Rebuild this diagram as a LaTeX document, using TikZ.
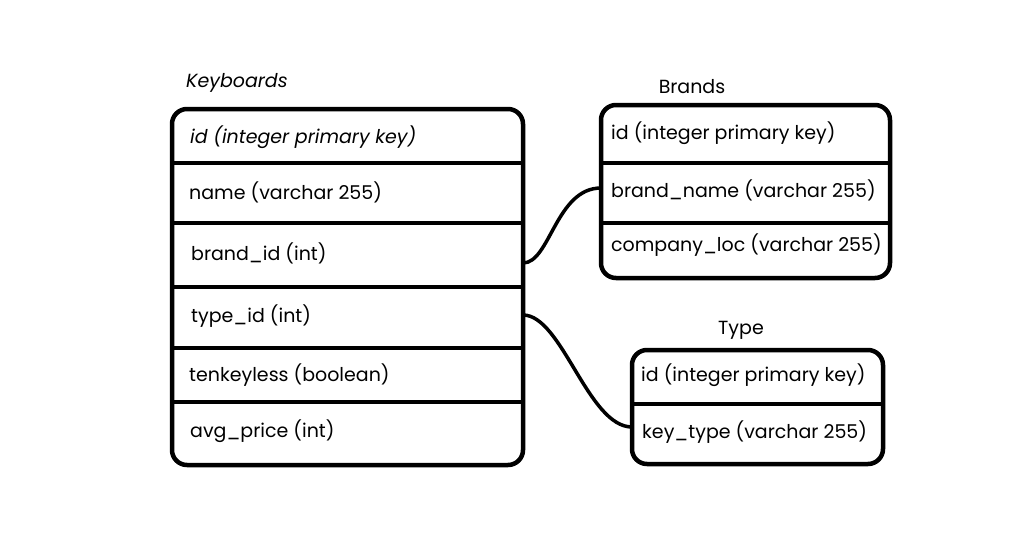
\documentclass[tikz,border=0pt]{standalone}
\usepackage{fontspec}
\setmainfont{Poppins}
\begin{document}
\begin{tikzpicture}[x=1pt,y=-1pt,
  tbl/.style={draw=black,line width=4.5pt,rounded corners=15pt},
  div/.style={draw=black,line width=4.5pt},
  rowtxt/.style={anchor=west,inner sep=0pt,font=\fontsize{19}{22}\selectfont},
  ttl/.style={inner sep=0pt,font=\fontsize{19}{22}\selectfont},
  link/.style={draw=black,line width=3.5pt}]
\useasboundingbox (0,0) rectangle (1013,541);
% Keyboards
\path[tbl] (172,109) rectangle (523,465);
\foreach \y in {163,223,287,348,402} \draw[div] (172,\y) -- (523,\y);
\node[ttl,anchor=west] (kbt) at (186,83) {\itshape Keyboards};
\node[rowtxt] (kb1) at (190,137) {\itshape id (integer primary key)};
\node[rowtxt] (kb2) at (189,192) {name (varchar 255)};
\node[rowtxt] (kb3) at (191,253) {brand\_id (int)};
\node[rowtxt] (kb4) at (191,316) {type\_id (int)};
\node[rowtxt] (kb5) at (189,375) {tenkeyless (boolean)};
\node[rowtxt] (kb6) at (190,431) {avg\_price (int)};
% Brands
\path[tbl] (601,105) rectangle (890,278);
\foreach \y in {163,223} \draw[div] (601,\y) -- (890,\y);
\node[ttl] (brt) at (692,87) {Brands};
\node[rowtxt] (br1) at (611,133) {id (integer primary key)};
\node[rowtxt] (br2) at (611,190) {brand\_name (varchar 255)};
\node[rowtxt] (br3) at (611,245) {company\_loc (varchar 255)};
% Type
\path[tbl] (632,350) rectangle (883,464);
\draw[div] (632,404) -- (883,404);
\node[ttl] (tyt) at (741,330) {Type};
\node[rowtxt] (ty1) at (641,375) {id (integer primary key)};
\node[rowtxt] (ty2) at (642,432) {key\_type (varchar 255)};
% connectors
\coordinate (kbB) at (523,263);
\coordinate (brN) at (601,188);
\coordinate (kbT) at (523,315);
\coordinate (tyK) at (632,427);
\draw[link] (kbB) .. controls (550,263) and (556,188) .. (brN);
\draw[link] (kbT) .. controls (562,315) and (588,427) .. (tyK);
\end{tikzpicture}
\end{document}
